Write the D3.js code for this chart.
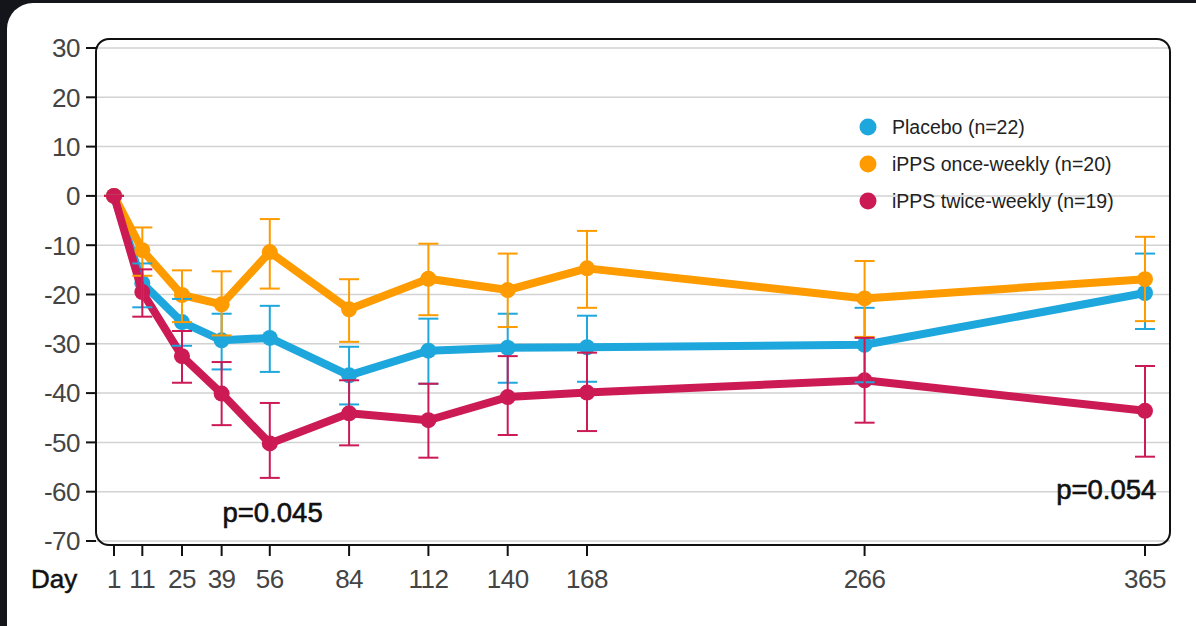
<!DOCTYPE html>
<html lang="en">
<head>
    <meta charset="UTF-8">
    <title>Change from baseline by day</title>
    <script src="https://cdnjs.cloudflare.com/ajax/libs/d3/7.8.5/d3.min.js"></script>
    <style>
        html, body {
            margin: 0;
            padding: 0;
            background: #13151b;
        }
        svg {
            display: block;
            font-family: "Liberation Sans", Arial, sans-serif;
        }
        .grid line {
            stroke: #d2d2d2;
            stroke-width: 1.5;
        }
        .tick-label {
            fill: #444;
            font-size: 26px;
        }
    </style>
</head>
<body>
    <div id="chart"></div>

    <script>
        // Data
        const days = [1, 11, 25, 39, 56, 84, 112, 140, 168, 266, 365];
        const yTicks = [30, 20, 10, 0, -10, -20, -30, -40, -50, -60, -70];

        const seriesNames = ["Placebo (n=22)", "iPPS once-weekly (n=20)", "iPPS twice-weekly (n=19)"];
        const seriesColors = ["#1ea7dc", "#fd9b00", "#cc1a55"];

        const placeboMean = [0, -17.7, -25.6, -29.3, -28.8, -36.4, -31.4, -30.8, -30.7, -30.2, -19.7];
        const placeboHigh = [0, -13.7, -20.9, -23.9, -22.3, -30.6, -24.9, -23.9, -24.3, -22.7, -11.7];
        const placeboLow  = [0, -22.6, -30.4, -35.2, -35.7, -42.3, -38.1, -37.9, -37.7, -37.8, -27.0];

        const onceMean = [0, -11.0, -20.1, -22.0, -11.4, -23.0, -16.8, -19.1, -14.7, -20.8, -16.9];
        const onceHigh = [0, -6.4, -15.1, -15.3, -4.7, -16.9, -9.7, -11.7, -7.1, -13.2, -8.3];
        const onceLow  = [0, -16.2, -25.6, -28.3, -18.8, -29.6, -24.2, -26.6, -22.7, -28.6, -25.4];

        const twiceMean = [0, -19.5, -32.5, -40.1, -50.2, -44.1, -45.5, -40.8, -39.9, -37.4, -43.6];
        const twiceHigh = [0, -14.9, -27.4, -33.7, -42.0, -37.4, -38.1, -32.5, -31.8, -28.8, -34.5];
        const twiceLow  = [0, -24.5, -37.9, -46.5, -57.2, -50.6, -53.1, -48.5, -47.7, -46.0, -52.9];

        const pLabels = [
            { text: "p=0.045", day: 57, value: -66.2, anchor: "middle" },
            { text: "p=0.054", day: 369, value: -61.4, anchor: "end" }
        ];

        // Build series objects from the arrays
        const series = [
            { name: seriesNames[0], color: seriesColors[0], mean: placeboMean, high: placeboHigh, low: placeboLow },
            { name: seriesNames[1], color: seriesColors[1], mean: onceMean, high: onceHigh, low: onceLow },
            { name: seriesNames[2], color: seriesColors[2], mean: twiceMean, high: twiceHigh, low: twiceLow }
        ].map(s => ({
            ...s,
            points: days.map((d, i) => ({ day: d, mean: s.mean[i], high: s.high[i], low: s.low[i] }))
        }));

        const width = 1196;
        const height = 626;

        // Plot frame
        const frame = { left: 96, right: 1170, top: 39, bottom: 545 };

        const x = d3.scaleLinear().domain([1, 365]).range([114, 1145]);
        const y = d3.scaleLinear().domain([-70, 30]).range([541, 48]);

        const svg = d3.select("#chart").append("svg")
            .attr("width", width)
            .attr("height", height);

        // White card
        svg.append("rect")
            .attr("x", 7).attr("y", 3)
            .attr("width", 1215).attr("height", 650)
            .attr("rx", 26)
            .attr("fill", "#fff");

        // Gridlines
        svg.append("g")
            .attr("class", "grid")
            .selectAll("line")
            .data(yTicks)
            .join("line")
            .attr("x1", frame.left).attr("x2", frame.right)
            .attr("y1", d => y(d)).attr("y2", d => y(d));

        // Frame with rounded corners
        svg.append("rect")
            .attr("x", frame.left).attr("y", frame.top)
            .attr("width", frame.right - frame.left)
            .attr("height", frame.bottom - frame.top)
            .attr("rx", 13)
            .attr("fill", "none")
            .attr("stroke", "#111")
            .attr("stroke-width", 2);

        // Y axis ticks and labels
        const yAxis = svg.append("g");
        yAxis.selectAll("line")
            .data(yTicks)
            .join("line")
            .attr("x1", 86).attr("x2", frame.left)
            .attr("y1", d => y(d)).attr("y2", d => y(d))
            .attr("stroke", "#111")
            .attr("stroke-width", 2);
        yAxis.selectAll("text")
            .data(yTicks)
            .join("text")
            .attr("class", "tick-label")
            .attr("x", 80)
            .attr("y", d => y(d))
            .attr("dy", "0.36em")
            .attr("text-anchor", "end")
            .attr("letter-spacing", "-0.5")
            .text(d => String(d));

        // X axis ticks and labels
        const xAxis = svg.append("g");
        xAxis.selectAll("line")
            .data(days)
            .join("line")
            .attr("x1", d => x(d)).attr("x2", d => x(d))
            .attr("y1", frame.bottom).attr("y2", frame.bottom + 11)
            .attr("stroke", "#111")
            .attr("stroke-width", 2);
        xAxis.selectAll("text")
            .data(days)
            .join("text")
            .attr("class", "tick-label")
            .attr("x", d => x(d))
            .attr("y", 588)
            .attr("text-anchor", "middle")
            .attr("letter-spacing", "-0.5")
            .text(d => d);

        svg.append("text")
            .attr("x", 31)
            .attr("y", 588)
            .attr("font-size", 26)
            .attr("fill", "#111")
            .attr("stroke", "#111")
            .attr("stroke-width", 0.5)
            .text("Day");

        // Lines and points
        const line = d3.line()
            .x(d => x(d.day))
            .y(d => y(d.mean));

        series.forEach(s => {
            const g = svg.append("g");
            g.append("path")
                .datum(s.points)
                .attr("d", line)
                .attr("fill", "none")
                .attr("stroke", s.color)
                .attr("stroke-width", 8)
                .attr("stroke-linejoin", "round");
            g.selectAll("circle")
                .data(s.points)
                .join("circle")
                .attr("cx", d => x(d.day))
                .attr("cy", d => y(d.mean))
                .attr("r", 8)
                .attr("fill", s.color);
        });

        // Error bars on top
        const capHalf = 10;
        series.forEach(s => {
            const g = svg.append("g")
                .attr("stroke", s.color)
                .attr("stroke-width", 2);
            const bars = g.selectAll("g")
                .data(s.points)
                .join("g");
            bars.append("line")
                .attr("x1", d => x(d.day)).attr("x2", d => x(d.day))
                .attr("y1", d => y(d.high)).attr("y2", d => y(d.low));
            bars.append("line")
                .attr("x1", d => x(d.day) - capHalf).attr("x2", d => x(d.day) + capHalf)
                .attr("y1", d => y(d.high)).attr("y2", d => y(d.high));
            bars.append("line")
                .attr("x1", d => x(d.day) - capHalf).attr("x2", d => x(d.day) + capHalf)
                .attr("y1", d => y(d.low)).attr("y2", d => y(d.low));
        });

        // Legend
        const legend = svg.append("g")
            .selectAll("g")
            .data(series)
            .join("g")
            .attr("transform", (d, i) => `translate(868, ${127 + i * 37})`);
        legend.append("circle")
            .attr("r", 8.5)
            .attr("fill", d => d.color);
        legend.append("text")
            .attr("x", 24)
            .attr("dy", "0.36em")
            .attr("font-size", 19.5)
            .attr("fill", "#222")
            .text(d => d.name);

        // p-values
        svg.append("g")
            .selectAll("text")
            .data(pLabels)
            .join("text")
            .attr("x", d => x(d.day))
            .attr("y", d => y(d.value))
            .attr("text-anchor", d => d.anchor)
            .attr("font-size", 27.5)
            .attr("fill", "#111")
            .attr("stroke", "#111")
            .attr("stroke-width", 0.6)
            .text(d => d.text);
    </script>
</body>
</html>
